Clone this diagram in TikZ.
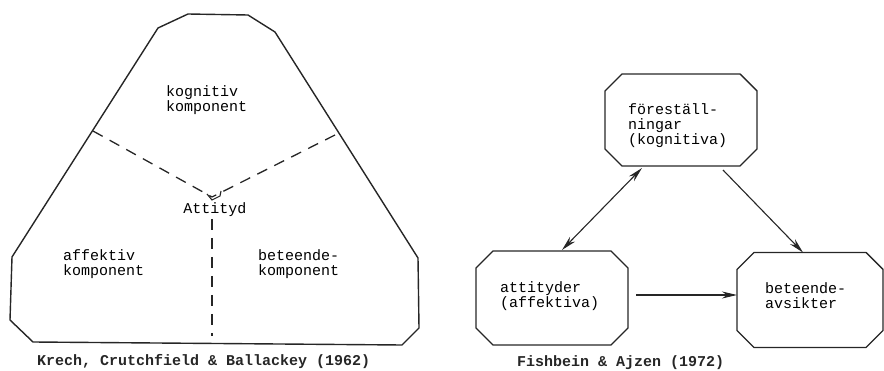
\documentclass[tikz,border=0pt]{standalone}
\usepackage{fontspec}
\setmonofont{Liberation Mono}
\usetikzlibrary{arrows.meta}
\tikzset{
  txt/.style={font=\ttfamily\fontsize{15}{15}\selectfont, inner sep=0pt, align=left, text=black},
  captxt/.style={font=\ttfamily\bfseries\fontsize{15}{15}\selectfont, inner sep=0pt, text=black!85},
  outline/.style={line width=1.4pt, draw=black!85, line join=round},
  part/.style={line width=1.3pt, draw=black!85, dash pattern=on 11pt off 8pt},
  boxarea/.style={rectangle, inner sep=0pt, outer sep=0pt},
  link/.style={line width=1.1pt, draw=black!85, -{Stealth[length=15pt,width=7pt]}},
  dlink/.style={line width=1.1pt, draw=black!85, {Stealth[length=15pt,width=7pt]}-{Stealth[length=15pt,width=7pt]}}
}
\newcommand{\octoframe}[1]{%
  \draw[outline] ([xshift=17pt]#1.north west) -- ([xshift=-17pt]#1.north east)
    -- ([yshift=-17pt]#1.north east) -- ([yshift=17pt]#1.south east)
    -- ([xshift=-17pt]#1.south east) -- ([xshift=17pt]#1.south west)
    -- ([yshift=17pt]#1.south west) -- ([yshift=-17pt]#1.north west) -- cycle;}
\begin{document}
\begin{tikzpicture}[x=1pt,y=-1pt]
\useasboundingbox (0,0) rectangle (884,371);
% ---------- left diagram ----------
\draw[outline] (158,28) -- (188,14) -- (248,15) -- (275,32) -- (418,258) -- (419,328)
  -- (402,345) -- (33,342) -- (10,320) -- (12,257) -- cycle;
\coordinate (lside) at (93,131);
\coordinate (rside) at (335,135);
\coordinate (center) at (212,197);
\coordinate (stemtop) at (212,219);
\coordinate (bottom) at (212,336);
\draw[part] (lside) -- (center);
\draw[part] (rside) -- (center);
\draw[part] (stemtop) -- (bottom);
\draw[line width=1.1pt, black!85] (207,194) -- (212,200) -- (220,196) -- (221,191);
\node[txt, anchor=west] (kog) at (166,100) {kognitiv\\komponent};
\node[txt, anchor=west] (aff) at (63,264) {affektiv\\komponent};
\node[txt, anchor=west] (bet) at (258,264) {beteende-\\komponent};
\node[txt] (att) at (215,210) {Attityd};
\node[captxt, anchor=west] (cap1) at (37,362) {Krech, Crutchfield \& Ballackey (1962)};
% ---------- right diagram ----------
\node[boxarea, minimum width=152pt, minimum height=92pt] (top) at (681,120) {};
\node[boxarea, minimum width=152pt, minimum height=94pt] (aff2) at (552,298) {};
\node[boxarea, minimum width=146pt, minimum height=95pt] (beh) at (810,300) {};
\octoframe{top}
\octoframe{aff2}
\octoframe{beh}
\node[txt, anchor=west] (toptxt) at (628,126) {föreställ-\\ningar\\(kognitiva)};
\node[txt, anchor=west] (afftxt) at (500,296) {attityder\\(affektiva)};
\node[txt, anchor=west] (behtxt) at (765,296) {beteende-\\avsikter};
\draw[dlink] ([xshift=10pt,yshift=1pt]aff2.north) -- ([xshift=-39pt,yshift=-2pt]top.south);
\draw[link] ([xshift=42pt,yshift=-4pt]top.south) -- ([xshift=-7pt]beh.north);
\draw[link] ([xshift=8pt,yshift=3pt]aff2.east) -- ([yshift=5pt]beh.west);
\node[captxt, anchor=west] (cap2) at (517,363) {Fishbein \& Ajzen (1972)};
\end{tikzpicture}
\end{document}
